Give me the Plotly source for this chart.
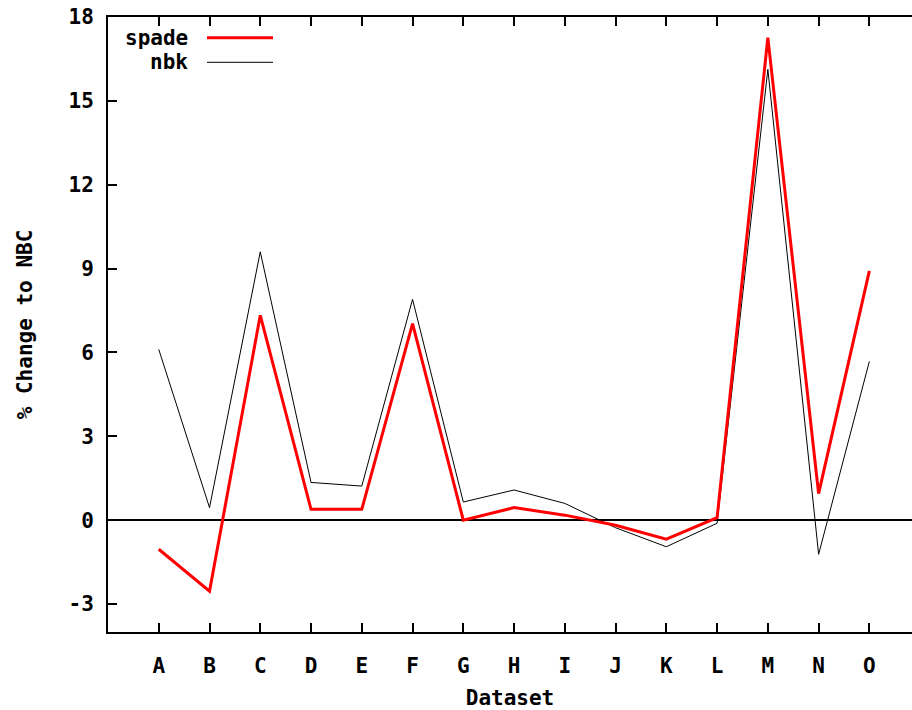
import plotly.graph_objects as go

datasets = ["A", "B", "C", "D", "E", "F", "G", "H", "I", "J", "K", "L", "M", "N", "O"]
spade = [-1.04, -2.54, 7.33, 0.39, 0.39, 7.03, 0.0, 0.45, 0.18, -0.18, -0.68, 0.09, 17.26, 0.95, 8.92]
nbk = [6.11, 0.45, 9.6, 1.35, 1.22, 7.9, 0.65, 1.08, 0.6, -0.27, -0.95, -0.11, 16.13, -1.22, 5.68]
y_ticks = [-3, 0, 3, 6, 9, 12, 15, 18]
y_tick_labels = ["-3", "0", "3", "6", "9", "12", "15", "18"]

FONT = "DejaVu Sans Mono"
xs = list(range(len(datasets)))

fig = go.Figure()
fig.add_trace(go.Scatter(x=xs, y=nbk, mode="lines", name="nbk",
                         line=dict(color="black", width=1)))
fig.add_trace(go.Scatter(x=xs, y=spade, mode="lines", name="spade",
                         line=dict(color="#ff0000", width=3)))

fig.update_layout(
    width=912, height=710,
    margin=dict(l=108, r=0, t=17, b=78),
    paper_bgcolor="white", plot_bgcolor="white",
    showlegend=False,
    font=dict(family=FONT, size=21, color="black", weight="bold"),
)
fig.update_xaxes(
    range=[-1, 14.84], tickmode="array", tickvals=xs, ticktext=datasets,
    ticks="inside", ticklen=9, tickwidth=1.5, tickcolor="black",
    showline=True, linecolor="black", linewidth=2, mirror="ticks",
    showgrid=False, zeroline=False,
    ticklabelstandoff=14,
    tickfont=dict(family=FONT, size=21, weight="bold"),
    title=dict(text="Dataset", standoff=16, font=dict(family=FONT, size=21, weight="bold")),
)
fig.update_yaxes(
    range=[-4, 18], tickmode="array", tickvals=y_ticks, ticktext=y_tick_labels,
    ticks="inside", ticklen=9, tickwidth=1.5, tickcolor="black",
    showline=True, linecolor="black", linewidth=2, mirror=False,
    showgrid=False, zeroline=True, zerolinecolor="black", zerolinewidth=1.5,
    ticklabelstandoff=8,
    tickfont=dict(family=FONT, size=21, weight="bold"),
    title=dict(text="% Change to NBC", standoff=30, font=dict(family=FONT, size=21, weight="bold")),
)

# legend drawn manually (text left of sample line, like gnuplot)
legend_items = [("spade", "#ff0000", 3, 37.7), ("nbk", "black", 1, 62.3)]
for name, color, w, ypx in legend_items:
    yp = 1 - (ypx - 17) / 615
    fig.add_annotation(x=(190 - 108) / 804, y=yp, xref="paper", yref="paper",
                       text=name, showarrow=False, xanchor="right", yanchor="middle",
                       font=dict(family=FONT, size=21, weight="bold"))
    fig.add_shape(type="line", xref="paper", yref="paper",
                  x0=(207 - 108) / 804, x1=(273 - 108) / 804, y0=yp, y1=yp,
                  line=dict(color=color, width=w))

fig.write_html("out.html")
